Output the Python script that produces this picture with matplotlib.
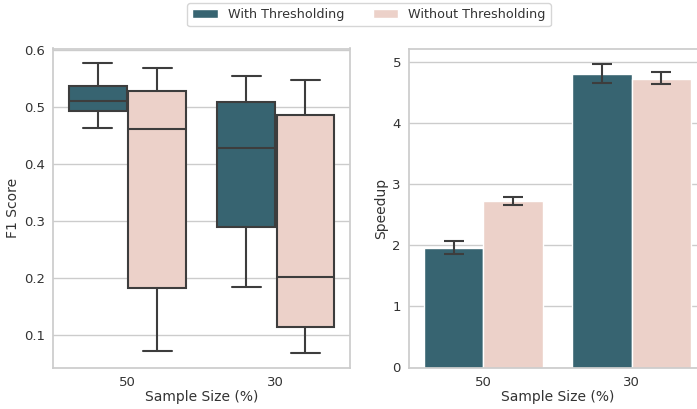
import numpy as np
import seaborn as sns
import matplotlib.pyplot as plt
from matplotlib.patches import Patch

sns.set_theme(style="whitegrid")
plt.rcParams['font.family'] = ['DejaVu Sans']

categories = ["50", "30"]
hues = ["With Thresholding", "Without Thresholding"]
colors = ["#376471", "#ecd1c9"]

# F1 score box stats per category, per hue: (whislo, q1, med, q3, whishi)
f1_with = [(0.463, 0.494, 0.5115, 0.537, 0.578),
           (0.184, 0.289, 0.429, 0.5086, 0.555)]
f1_without = [(0.0725, 0.182, 0.4617, 0.528, 0.570),
              (0.0683, 0.1147, 0.202, 0.487, 0.548)]

# speedup means with CI bounds
speed_with = [1.95, 4.80]
speed_with_lo = [1.852, 4.651]
speed_with_hi = [2.07, 4.973]
speed_without = [2.718, 4.728]
speed_without_lo = [2.658, 4.641]
speed_without_hi = [2.794, 4.837]

W, H = 697, 409
fig = plt.figure(figsize=(W / 100, H / 100), dpi=100)
ax1 = fig.add_axes([53.3 / W, (H - 367.5) / H, 296.7 / W, 319 / H])
ax2 = fig.add_axes([409.3 / W, (H - 367.5) / H, 296.7 / W, 319 / H])

x = np.arange(len(categories))
line_c = "#3d3d3d"
txt_c = "#333333"

def stats(rows):
    return [dict(whislo=r[0], q1=r[1], med=r[2], q3=r[3], whishi=r[4], fliers=[])
            for r in rows]

for k, (rows, c) in enumerate([(f1_with, colors[0]), (f1_without, colors[1])]):
    ax1.bxp(stats(rows), positions=x - 0.2 + 0.4 * k, widths=0.39,
            patch_artist=True, manage_ticks=False,
            boxprops=dict(facecolor=c, edgecolor=line_c, linewidth=1.5),
            medianprops=dict(color=line_c, linewidth=1.5),
            whiskerprops=dict(color=line_c, linewidth=1.5),
            capprops=dict(color=line_c, linewidth=1.5))
ax1.set_xlim(-0.5, 1.5)
ax1.set_xticks(x)
ax1.set_xticklabels(categories)
ax1.set_ylabel("F1 Score", fontsize=10, labelpad=3)
ax1.set_xlabel("Sample Size (%)", fontsize=10)
ax1.grid(axis='x', visible=False)

for k, (vals, lo, hi, c) in enumerate([
        (speed_with, speed_with_lo, speed_with_hi, colors[0]),
        (speed_without, speed_without_lo, speed_without_hi, colors[1])]):
    vals = np.array(vals)
    err = [vals - np.array(lo), np.array(hi) - vals]
    ax2.bar(x - 0.2 + 0.4 * k, vals, width=0.4, color=c, edgecolor='white',
            linewidth=1, yerr=err, capsize=7,
            error_kw=dict(ecolor=line_c, elinewidth=1.5, capthick=1.5))
ax2.set_xlim(-0.5, 1.5)
ax2.set_xticks(x)
ax2.set_xticklabels(categories)
ax2.set_ylabel("Speedup", fontsize=10, labelpad=3)
ax2.set_xlabel("Sample Size (%)", fontsize=10)
ax2.grid(axis='x', visible=False)

for ax in (ax1, ax2):
    ax.tick_params(labelsize=9.5, colors=txt_c, length=0, pad=6)
    ax.xaxis.label.set_color(txt_c)
    ax.yaxis.label.set_color(txt_c)
    ax.xaxis.labelpad = 1

handles = [Patch(facecolor=colors[0], label=hues[0]),
           Patch(facecolor=colors[1], label=hues[1])]
leg = fig.legend(handles=handles, loc='upper center', ncol=2, fontsize=9.2,
                 bbox_to_anchor=(369 / W, 1.008), frameon=True, columnspacing=2.2)
for t in leg.get_texts():
    t.set_color(txt_c)

fig.savefig("out.png", dpi=100)
